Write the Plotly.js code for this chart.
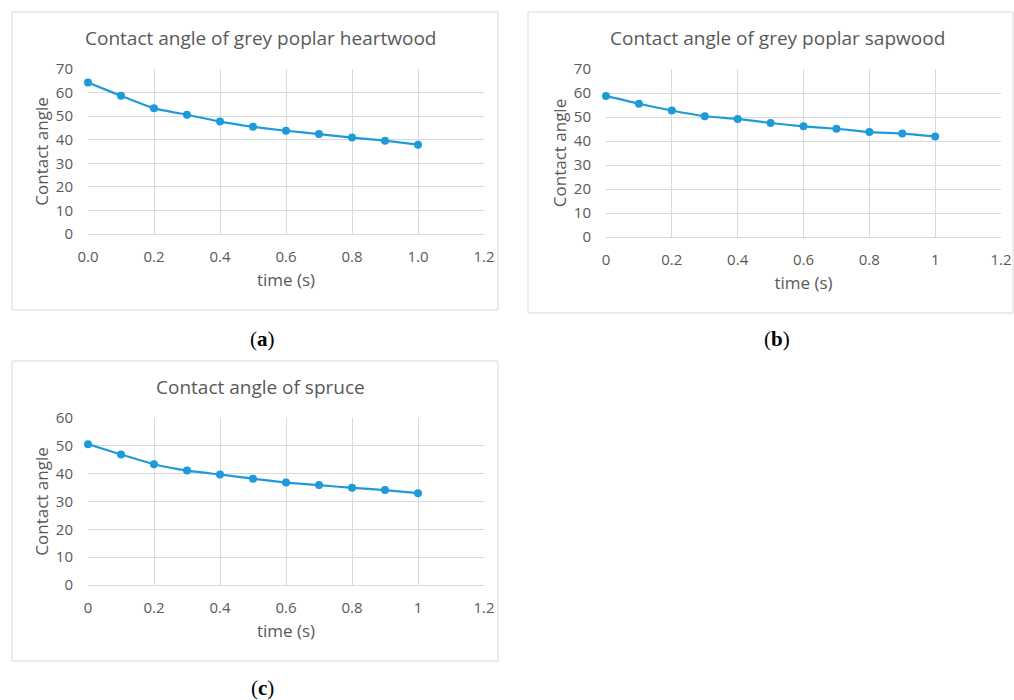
<!DOCTYPE html>
<html>
<head>
<meta charset="utf-8">
<script src="https://cdn.plot.ly/plotly-3.0.1.min.js"></script>
<style>html,body{margin:0;padding:0;background:#fff;}#chart{width:1014px;height:700px;}</style>
</head>
<body>
<div id="chart"></div>
<script>
// Data
const time = [0, 0.1, 0.2, 0.3, 0.4, 0.5, 0.6, 0.7, 0.8, 0.9, 1.0];
const heartwood = [64.3, 58.6, 53.3, 50.6, 47.7, 45.5, 43.8, 42.4, 40.9, 39.6, 37.9];
const sapwood = [58.8, 55.5, 52.7, 50.3, 49.2, 47.5, 46.1, 45.1, 43.7, 43.1, 41.9];
const spruce = [50.6, 46.9, 43.4, 41.1, 39.7, 38.2, 36.8, 35.9, 34.9, 34.1, 33.0];
const titles = ["Contact angle of grey poplar heartwood", "Contact angle of grey poplar sapwood", "Contact angle of spruce"];
const panelLabels = ["(<b>a</b>)", "(<b>b</b>)", "(<b>c</b>)"];
const xTickVals = [0, 0.2, 0.4, 0.6, 0.8, 1.0, 1.2];
const xTickTextA = ["0.0", "0.2", "0.4", "0.6", "0.8", "1.0", "1.2"];
const xTickTextBC = ["0", "0.2", "0.4", "0.6", "0.8", "1", "1.2"];
const xAxisTitle = "time (s)";
const yAxisTitle = "Contact angle";

const W = 1014, H = 700;
const px = v => v / W;
const py = v => 1 - v / H;
const FONT = "Open Sans";
const TXT = "#595959";
const GRID = "#d9d9d9";
const LINE = "#1f9ad8";

function trace(y, xa, ya) {
  return {
    x: time, y: y, xaxis: xa, yaxis: ya, type: "scatter", mode: "lines+markers",
    line: {color: LINE, width: 2.2, shape: "spline", smoothing: 0.4},
    marker: {color: LINE, size: 8},
    cliponaxis: false,
    showlegend: false, hoverinfo: "x+y"
  };
}

function xaxis(dom, anchor, ticktext) {
  return {
    domain: dom, anchor: anchor, range: [0, 1.2], tickvals: xTickVals, ticktext: ticktext,
    showgrid: true, gridcolor: GRID, gridwidth: 1, zeroline: false,
    showline: true, linecolor: GRID, linewidth: 1, mirror: false,
    ticks: "", ticklabelstandoff: 9, fixedrange: true,
    tickfont: {family: FONT, size: 15, color: TXT},
    title: {text: xAxisTitle, font: {family: FONT, size: 17, color: TXT}, standoff: 9}
  };
}
function yaxis(dom, anchor, max) {
  return {
    domain: dom, anchor: anchor, range: [0, max], dtick: 10,
    showgrid: true, gridcolor: GRID, gridwidth: 1, zeroline: false,
    showline: false, ticks: "", ticklabelstandoff: 14, fixedrange: true,
    tickfont: {family: FONT, size: 15, color: TXT},
    title: {text: yAxisTitle, font: {family: FONT, size: 17, color: TXT}, standoff: 2}
  };
}

const data = [
  trace(heartwood, "x", "y"),
  trace(sapwood, "x2", "y2"),
  trace(spruce, "x3", "y3")
];

function frame(x0, y0, x1, y1) {
  return {type: "rect", xref: "paper", yref: "paper", x0: px(x0), x1: px(x1), y0: py(y1), y1: py(y0),
          line: {color: "#d9d9d9", width: 1}, fillcolor: "rgba(0,0,0,0)", layer: "below"};
}
function ann(text, x, y, size, family, color) {
  return {text: text, xref: "paper", yref: "paper", x: px(x), y: py(y), xanchor: "center", yanchor: "middle",
          showarrow: false, font: {family: family, size: size, color: color}};
}

const layout = {
  width: W, height: H, margin: {l: 0, r: 0, t: 0, b: 0},
  paper_bgcolor: "#fff", plot_bgcolor: "#fff",
  xaxis: xaxis([px(88), px(484)], "y", xTickTextA),
  yaxis: yaxis([py(234), py(69)], "x", 70),
  xaxis2: xaxis([px(606), px(1001)], "y2", xTickTextBC),
  yaxis2: yaxis([py(237), py(69)], "x2", 70),
  xaxis3: xaxis([px(88), px(484)], "y3", xTickTextBC),
  yaxis3: yaxis([py(585), py(418)], "x3", 60),
  shapes: [frame(12, 12, 498, 310), frame(528, 12, 1013, 313), frame(12, 361, 498, 661)],
  annotations: [
    ann(titles[0], 260, 38, 19, FONT, TXT),
    ann(titles[1], 777, 38, 19, FONT, TXT),
    ann(titles[2], 260, 387, 19, FONT, TXT),
    ann(panelLabels[0], 262, 339, 21, "Liberation Serif", "#000"),
    ann(panelLabels[1], 777, 339, 21, "Liberation Serif", "#000"),
    ann(panelLabels[2], 262, 688, 21, "Liberation Serif", "#000")
  ]
};

Plotly.newPlot("chart", data, layout, {displayModeBar: false});
</script>
</body>
</html>
